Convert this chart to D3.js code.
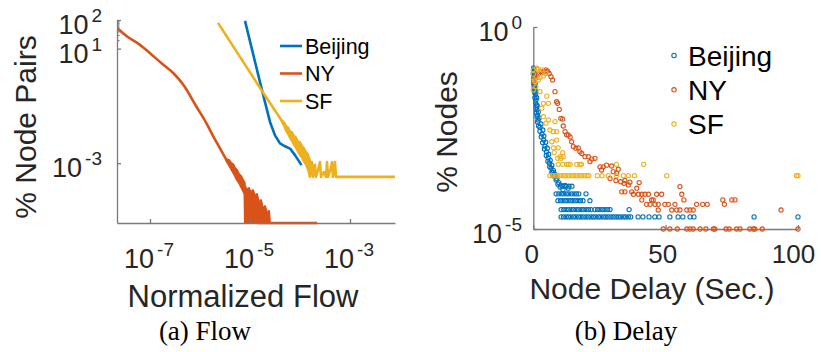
<!DOCTYPE html>
<html>
<head>
<meta charset="utf-8">
<script src="https://cdn.jsdelivr.net/npm/d3@7"></script>
<style>
  body { margin: 0; background: #fff; }
  text { font-family: "Liberation Sans", Arial, sans-serif; }
  .axis path, .axis line { stroke: #7a7a7a; stroke-width: 1.3; }
  .caption { font-family: "Liberation Serif", "Times New Roman", serif; }
</style>
</head>
<body>
<div id="chart"></div>
<script>
// series names / colours
let cityNames = ["Beijing", "NY", "SF"];
let cityColors = ["#0072BD", "#D95319", "#EDB120"];

// (a) flow: both axes read as powers of ten
let bjFlowExp = [-5.10, -4.80, -4.70, -4.60, -4.50, -4.40, -4.30, -4.20, -4.10, -3.97];
let bjPairExp = [1.97, -0.17, -0.87, -1.56, -2.03, -2.31, -2.41, -2.49, -2.72, -3.07];

// NY: smooth part, noisy band (upper / lower edge), flat tail
let nyFlowExp = [-7.67, -7.47, -7.20, -7.00, -6.77, -6.53, -6.33, -6.07, -5.87, -5.73, -5.60, -5.47,
  -5.27, -5.13];
let nyPairExp = [1.75, 1.44, 1.13, 0.84, 0.49, 0.14, -0.27, -1.03, -1.61, -2.08, -2.48, -2.89,
  -3.47, -3.82];
let nyBandFlowExp = [-5.47, -5.42, -5.38, -5.34, -5.30, -5.26, -5.22, -5.18, -5.14, -5.11, -5.10,
  -5.06, -5.02, -4.98, -4.94, -4.90, -4.86, -4.82, -4.78, -4.74, -4.70, -4.66, -4.62, -4.60];
let nyBandHiExp = [-2.86, -2.89, -2.99, -3.03, -3.17, -3.24, -3.38, -3.45, -3.59, -3.66, -3.80,
  -3.94, -3.87, -4.04, -3.94, -4.15, -4.08, -4.39, -4.29, -4.60, -4.50, -4.74, -4.67, -5.09];
let nyBandLoExp = [-2.92, -3.06, -3.20, -3.31, -3.45, -3.59, -3.69, -3.83, -3.97, -4.08, -5.09,
  -5.09, -5.09, -5.09, -5.09, -5.09, -5.09, -5.09, -5.09, -5.09, -5.09, -5.09, -5.09, -5.09];
let nyTailFlowExp = [-4.84, -3.66];
let nyTailPairExp = [-5.09, -5.09];

// SF: straight part + spikes, and the noisy band before the spikes
let sfFlowExp = [-5.64, -4.73, -4.37, -3.84, -3.80, -3.76, -3.74, -3.70, -3.68, -3.64, -3.60, -3.58,
  -3.52, -3.48, -3.46, -3.44, -3.38, -3.36, -3.34, -3.30, -3.28, -2.10];
let sfPairExp = [1.90, -0.56, -1.50, -2.89, -3.48, -2.96, -3.48, -3.06, -3.48, -3.24, -2.96, -3.48,
  -3.31, -3.48, -2.96, -3.48, -3.17, -2.96, -3.48, -2.96, -3.48, -3.48];
let sfBandFlowExp = [-4.37, -4.32, -4.28, -4.24, -4.20, -4.16, -4.12, -4.08, -4.04, -4.00, -3.96,
  -3.92, -3.88, -3.84, -3.80];
let sfBandHiExp = [-1.49, -1.56, -1.70, -1.74, -1.88, -1.91, -2.05, -2.09, -2.23, -2.26, -2.40,
  -2.47, -2.61, -2.68, -2.89];
let sfBandLoExp = [-1.53, -1.70, -1.88, -1.98, -2.12, -2.23, -2.37, -2.47, -2.61, -2.72, -2.82,
  -2.96, -3.06, -3.24, -3.48];

let flowTicks = [-7, -5, -3];
let pairTicks = [2, 1, -3];
let pairMinor = [20, 30, 40, 50, 60, 70, 80, 90];

// (b) delay: seconds vs. share of nodes (power of ten)
let bjDelay = [0.1, 0.1, 0.3, 0.3, 0.5, 0.6, 0.8, 1.0, 1.2, 1.4, 1.6, 1.8, 2.5, 3.3, 3.9, 4.4, 5.0,
  5.6, 6.1, 6.7, 7.3, 7.8, 8.6, 9.3, 10.1, 11.2,
  0.4, 0.2, 0.7, 0.9, 1.3, 1.5, 1.9, 2.2, 2.9, 3.6, 4.0, 4.7, 5.3, 5.8, 6.4, 7.0, 7.6, 8.2, 8.9,
  9.6, 10.5, 12.0, 13.2,
  0.0, 0.2, 0.3, 0.5, 0.6, 0.9, 1.0, 1.1, 1.4, 1.6, 2.0, 2.5, 3.0, 3.5, 4.2, 4.9, 5.5, 6.2, 7.0];
let bjShare = [-1.01, -1.11, -1.21, -1.31, -1.44, -1.56, -1.68, -1.81, -1.93, -2.05, -2.18, -2.30,
  -2.48, -2.65, -2.80, -2.95, -3.09, -3.24, -3.37, -3.49, -3.59, -3.69, -3.79, -3.89, -3.96, -4.03,
  -1.05, -1.25, -1.40, -1.60, -1.75, -1.95, -2.10, -2.25, -2.40, -2.55, -2.70, -2.85, -3.00, -3.15,
  -3.30, -3.42, -3.55, -3.65, -3.75, -3.85, -3.92, -3.92, -3.99,
  -1.15, -1.35, -1.50, -1.62, -1.75, -1.88, -2.00, -2.12, -2.22, -2.35, -2.45, -2.58, -2.72, -2.86,
  -3.02, -3.18, -3.32, -3.46, -3.60];
let bjLevels = [-3.94, -4.13, -4.30, -4.52, -4.70];
let bjLevelDelays = [
  [11.2, 12.4, 13.5, 14.6],
  [8.6, 9.6, 10.6, 11.5, 12.5, 13.4, 14.4, 15.4, 16.3, 17.2, 19.9],
  [9.3, 10.3, 11.2, 12.2, 13.1, 14.1, 15.0, 16.0, 16.9, 17.8, 18.8, 21.4],
  [10.5, 11.5, 12.4, 13.3, 14.3, 15.2, 16.2, 17.1, 18.1, 19.0, 20.0, 20.9, 21.8, 23.3, 24.3, 25.2,
    26.2, 27.1, 28.1, 29.0, 36.2],
  [10.5, 11.4, 12.4, 13.3, 14.2, 15.2, 16.1, 17.1, 18.0, 18.9, 19.9, 20.8, 21.8, 22.7, 23.6, 24.6,
    25.5, 26.5, 27.4, 28.3, 29.3, 30.2, 31.2, 32.1, 33.0, 34.0, 34.9, 35.9, 36.8, 39.6, 41.4, 43.7,
    45.9, 47.5, 51.6, 54.7, 56.5, 59.2, 60.7, 83.4, 100]
];

let nyDelay = [0.1, 0.5, 0.8, 1.4, 2.0, 2.9, 3.7, 4.2, 4.8, 5.4, 6.0, 6.7, 7.3, 8.2, 8.8, 9.2, 9.8,
  10.4, 11.1, 11.3, 12.0, 12.6, 13.2, 13.9, 14.5, 15.1, 16.1, 17.0, 17.6, 18.3, 19.5, 20.8, 21.4,
  22.1, 23.3, 25.2, 26.4, 27.7, 29.6, 25.8, 30.2, 31.5, 32.1, 29.0, 31.2, 33.0, 34.6, 36.5, 40.0,
  34.3, 35.9, 39.1, 55.4];
let nyShare = [-1.41, -1.31, -1.26, -1.21, -1.15, -1.11, -1.13, -1.09, -1.06, -1.09, -1.15, -1.23,
  -1.31, -1.60, -1.85, -1.89, -2.04, -2.26, -2.28, -2.45, -2.59, -2.67, -2.67, -2.72, -2.84, -2.96,
  -3.00, -2.99, -3.09, -3.13, -3.21, -3.21, -3.33, -3.27, -3.25, -3.46, -3.46, -3.42, -3.44, -3.54,
  -3.58, -3.62, -3.52, -3.75, -3.80, -3.83, -3.80, -3.84, -3.85, -3.87, -3.91, -3.99, -3.95];
let nyLevels = [-4.08, -4.14, -4.28, -4.39, -4.53, -5.00];
let nyLevelDelays = [
  [33.4, 34.6, 37.2],
  [37.8, 39.7, 41.0, 42.2, 43.5, 46.6, 48.5, 56.1],
  [41.0, 44.7, 45.3, 56.9, 71.6, 75.0, 76.2],
  [42.8, 44.1, 46.0, 47.2, 49.7, 51.0, 53.5, 61.7, 64.0, 65.7, 72.2],
  [47.2, 52.3, 54.2, 55.4, 58.0, 59.2, 60.4, 93.6],
  [49.1, 51.6, 54.4, 58.0, 59.2, 60.4, 63.0, 65.2, 68.0, 68.6, 72.8, 74.0, 76.8, 78.1, 81.8, 83.1,
    83.7, 86.5, 100]
];

let sfDelay = [0, 1.3, 1.9, 3.2, 0.6, 1.9, 2.5, 3.8, 4.8, 0, 0.4, 0, 1.0, 2.5, 5.1, 3.8, 5.7, 3.2,
  3.8, 5.7, 8.2, 4.8, 6.3, 7.6, 8.8, 7.0, 8.8, 7.6, 9.4, 10.1, 11.3, 7.9, 11.1, 9.2, 10.5];
let sfShare = [-1.06, -1.02, -1.05, -1.06, -1.35, -1.31, -1.25, -1.21, -1.15, -1.17, -1.31, -1.56,
  -1.48, -1.60, -1.71, -1.89, -1.89, -2.01, -2.22, -2.30, -2.34, -2.38, -2.55, -2.59, -2.59, -2.84,
  -2.80, -2.99, -2.99, -3.21, -3.21, -3.11, -3.11, -3.25, -3.25];
let sfLevels = [-3.40, -3.68];
let sfLevelDelays = [
  [9.4, 11.1, 12.6, 13.2, 13.9, 16.4, 17.6, 18.2, 31.4, 41.7],
  [6.3, 7.3, 8.3, 9.3, 10.3, 11.3, 12.3, 13.3, 14.3, 15.3, 16.3, 17.3, 18.3, 19.3, 20.3, 21.0,
    24.2, 26.0, 28.3, 31.4, 34.0, 35.9, 38.2, 50.4, 99.4, 100]
];

let delayTicks = [0, 50, 100];
let shareTicks = [0, -5];

let width = 821;
let height = 352;

let svg = d3.select("#chart")
  .append("svg")
  .attr("width", width)
  .attr("height", height);

// 10^x label with a raised exponent
function powLabel(x, y, exp, anchor) {
  let t = svg.append("text")
    .attr("x", x)
    .attr("y", y)
    .attr("text-anchor", anchor)
    .attr("fill", "#262626")
    .style("font-size", "27px");
  t.append("tspan").text("10");
  t.append("tspan")
    .attr("dx", 3)
    .attr("dy", -12)
    .style("font-size", "19px")
    .text(exp);
}

// ---------- (a) Flow ----------
let flowX = d3.scaleLog()
  .domain([Math.pow(10, -7.66), Math.pow(10, -2.1)])
  .range([117, 395]);
let pairY = d3.scaleLog()
  .domain([Math.pow(10, -5.09), 100])
  .range([223, 20]);

svg.append("defs").append("clipPath")
  .attr("id", "clipA")
  .append("rect")
  .attr("x", 117).attr("y", 19)
  .attr("width", 280).attr("height", 207);

function fx(e) { return flowX(Math.pow(10, e)); }
function fy(e) { return pairY(Math.pow(10, e)); }

let smoothLine = d3.line()
  .x(function(d) { return fx(d[0]); })
  .y(function(d) { return fy(d[1]); })
  .curve(d3.curveMonotoneX);
let plainLine = d3.line()
  .x(function(d) { return fx(d[0]); })
  .y(function(d) { return fy(d[1]); });
let bandArea = d3.area()
  .x(function(d) { return fx(d[0]); })
  .y0(function(d) { return fy(d[2]); })
  .y1(function(d) { return fy(d[1]); });

let gA = svg.append("g").attr("clip-path", "url(#clipA)");

function drawPath(gen, data, color) {
  gA.append("path")
    .datum(data)
    .attr("d", gen)
    .attr("fill", "none")
    .attr("stroke", color)
    .attr("stroke-width", 2.6)
    .attr("stroke-linejoin", "round");
}
function drawBand(data, color) {
  gA.append("path")
    .datum(data)
    .attr("d", bandArea)
    .attr("fill", color)
    .attr("stroke", color)
    .attr("stroke-width", 2)
    .attr("stroke-linejoin", "round");
}

drawPath(plainLine, d3.zip(bjFlowExp, bjPairExp), cityColors[0]);

drawPath(smoothLine, d3.zip(nyFlowExp, nyPairExp), cityColors[1]);
drawBand(d3.zip(nyBandFlowExp, nyBandHiExp, nyBandLoExp), cityColors[1]);
drawPath(plainLine, d3.zip(nyTailFlowExp, nyTailPairExp), cityColors[1]);

drawBand(d3.zip(sfBandFlowExp, sfBandHiExp, sfBandLoExp), cityColors[2]);
drawPath(plainLine, d3.zip(sfFlowExp, sfPairExp), cityColors[2]);

svg.append("g")
  .attr("class", "axis")
  .attr("transform", "translate(0,223)")
  .call(d3.axisBottom(flowX)
    .tickValues(flowTicks.map(function(e) { return Math.pow(10, e); }))
    .tickSizeInner(-4).tickSizeOuter(0).tickFormat(""));

svg.append("g")
  .attr("class", "axis")
  .attr("transform", "translate(117,0)")
  .call(d3.axisLeft(pairY)
    .tickValues(pairTicks.map(function(e) { return Math.pow(10, e); }))
    .tickSizeInner(-4).tickSizeOuter(0).tickFormat(""));

svg.append("g")
  .attr("class", "axis")
  .attr("transform", "translate(117,0)")
  .call(d3.axisLeft(pairY).tickValues(pairMinor).tickSizeInner(-2.5).tickSizeOuter(0).tickFormat(""))
  .select(".domain").remove();

flowTicks.forEach(function(e) {
  powLabel(fx(e) - 1, 268, e, "middle");
});
pairTicks.forEach(function(e) {
  powLabel(102, fy(e) + 14, e, "end");
});

svg.append("text")
  .attr("x", 243).attr("y", 307)
  .attr("text-anchor", "middle")
  .attr("fill", "#262626")
  .style("font-size", "31px")
  .text("Normalized Flow");

svg.append("text")
  .attr("transform", "translate(36,127) rotate(-90)")
  .attr("text-anchor", "middle")
  .attr("fill", "#262626")
  .style("font-size", "30px")
  .text("% Node Pairs");

cityNames.forEach(function(name, i) {
  let y = 46 + i * 27.5;
  svg.append("line")
    .attr("x1", 280).attr("x2", 302)
    .attr("y1", y).attr("y2", y)
    .attr("stroke", cityColors[i])
    .attr("stroke-width", 2.6);
  svg.append("text")
    .attr("x", 305).attr("y", y + 7.5)
    .style("font-size", "21.5px")
    .text(name);
});

svg.append("text")
  .attr("class", "caption")
  .attr("x", 205).attr("y", 340)
  .attr("text-anchor", "middle")
  .style("font-size", "27px")
  .text("(a) Flow");

// ---------- (b) Delay ----------
let delayX = d3.scaleLinear().domain([0, 100]).range([533.3, 798]);
let shareY = d3.scaleLog().domain([1e-5, 1]).range([229, 27]);

function cityPoints(delay, share, levels, levelDelays) {
  let pts = d3.zip(delay, share);
  levels.forEach(function(lv, i) {
    levelDelays[i].forEach(function(d) { pts.push([d, lv]); });
  });
  return pts;
}

let delaySeries = [
  cityPoints(bjDelay, bjShare, bjLevels, bjLevelDelays),
  cityPoints(nyDelay, nyShare, nyLevels, nyLevelDelays),
  cityPoints(sfDelay, sfShare, sfLevels, sfLevelDelays)
];

svg.append("g")
  .attr("class", "axis")
  .attr("transform", "translate(0,229)")
  .call(d3.axisBottom(delayX).tickValues(delayTicks).tickSizeInner(-4).tickSizeOuter(0).tickFormat(""));

svg.append("g")
  .attr("class", "axis")
  .attr("transform", "translate(533.3,0)")
  .call(d3.axisLeft(shareY)
    .tickValues(shareTicks.map(function(e) { return Math.pow(10, e); }))
    .tickSizeInner(-4).tickSizeOuter(0).tickFormat(""));

delaySeries.forEach(function(s, i) {
  svg.append("g")
    .selectAll("circle")
    .data(s)
    .enter()
    .append("circle")
    .attr("cx", function(d) { return delayX(d[0]); })
    .attr("cy", function(d) { return shareY(Math.pow(10, d[1])); })
    .attr("r", 2.1)
    .attr("fill", "none")
    .attr("stroke", cityColors[i])
    .attr("stroke-width", 1.1);
});

delayTicks.forEach(function(v) {
  svg.append("text")
    .attr("x", delayX(v) - 1.5 - v * 0.03).attr("y", 263)
    .attr("text-anchor", "middle")
    .attr("fill", "#262626")
    .style("font-size", "26px")
    .text(v);
});
shareTicks.forEach(function(e) {
  powLabel(522, shareY(Math.pow(10, e)) + 14, e, "end");
});

svg.append("text")
  .attr("x", 652).attr("y", 299)
  .attr("text-anchor", "middle")
  .attr("fill", "#262626")
  .style("font-size", "30px")
  .text("Node Delay (Sec.)");

svg.append("text")
  .attr("transform", "translate(457,132) rotate(-90)")
  .attr("text-anchor", "middle")
  .attr("fill", "#262626")
  .style("font-size", "30px")
  .text("% Nodes");

cityNames.forEach(function(name, i) {
  let y = 55.5 + i * 34.3;
  svg.append("circle")
    .attr("cx", 674).attr("cy", y)
    .attr("r", 2.2)
    .attr("fill", "none")
    .attr("stroke", cityColors[i])
    .attr("stroke-width", 1.1);
  svg.append("text")
    .attr("x", 688).attr("y", y + 10)
    .style("font-size", "28px")
    .text(name);
});

svg.append("text")
  .attr("class", "caption")
  .attr("x", 626).attr("y", 340)
  .attr("text-anchor", "middle")
  .style("font-size", "27px")
  .text("(b) Delay");
</script>
</body>
</html>
